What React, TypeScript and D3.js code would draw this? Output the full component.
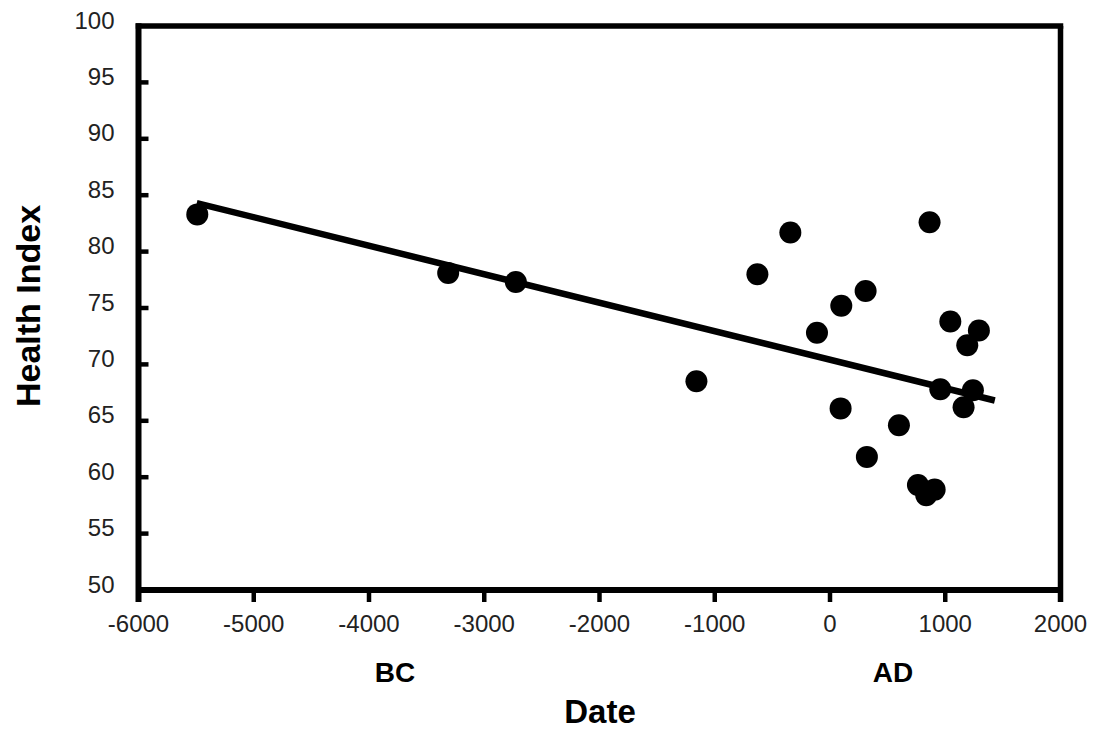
import React from "react";
import * as d3 from "d3";

const dates: number[] = [
  -5490, -3313, -2726, -1159, -630, -344, -113, 98, 309, 92, 320, 598, 864,
  1044, 957, 1292, 1191, 1240, 1159, 763, 908, 835,
];
const healthIndex: number[] = [
  83.3, 78.1, 77.3, 68.5, 78.0, 81.7, 72.8, 75.2, 76.5, 66.1, 61.8, 64.6, 82.6,
  73.8, 67.8, 73.0, 71.7, 67.7, 66.2, 59.3, 58.9, 58.4,
];
const trendDates: number[] = [-5495, 1430];
const trendValues: number[] = [84.3, 66.8];
const xTicks: number[] = [-6000, -5000, -4000, -3000, -2000, -1000, 0, 1000, 2000];
const yTicks: number[] = [50, 55, 60, 65, 70, 75, 80, 85, 90, 95, 100];

const W = 1101;
const H = 731;
const left = 138.5;
const right = 1060.5;
const top = 26;
const bottom = 590;
const FONT = "'Liberation Sans', Arial, Helvetica, sans-serif";

export default function App() {
  const x = d3.scaleLinear().domain([-6000, 2000]).range([left, right]);
  const y = d3.scaleLinear().domain([50, 100]).range([bottom, top]);
  const line = d3
    .line<number>()
    .x((d, i) => x(trendDates[i]))
    .y((d) => y(d));

  return (
    <div style={{ position: "absolute", left: 0, top: 0 }}>
      <svg width={W} height={H} style={{ display: "block", background: "#fff" }}>
        <rect x={0} y={0} width={W} height={H} fill="#fff" />
        {/* frame */}
        <line x1={left} y1={top} x2={right} y2={top} stroke="#000" strokeWidth={5.5} strokeLinecap="square" />
        <line x1={right} y1={top} x2={right} y2={bottom + 12} stroke="#000" strokeWidth={5.5} strokeLinecap="butt" />
        <line x1={left} y1={top - 2.75} x2={left} y2={bottom + 12} stroke="#000" strokeWidth={6} />
        <line x1={left} y1={bottom} x2={right} y2={bottom} stroke="#000" strokeWidth={6} />
        {/* y ticks (inward) */}
        {yTicks.map((t) => (
          <g key={"y" + t}>
            {t !== 100 && t !== 50 && (
              <line x1={left} x2={left + 10} y1={y(t)} y2={y(t)} stroke="#000" strokeWidth={4.5} />
            )}
            <text
              x={left - 24}
              y={y(t) + 2.5}
              textAnchor="end"
              fontFamily={FONT}
              fontSize={24}
              fill="#222"
            >
              {t}
            </text>
          </g>
        ))}
        {/* x ticks (outward) */}
        {xTicks.map((t) => (
          <g key={"x" + t}>
            <line x1={x(t)} x2={x(t)} y1={bottom} y2={bottom + 12} stroke="#000" strokeWidth={4.5} />
            <text
              x={x(t)}
              y={632}
              textAnchor="middle"
              fontFamily={FONT}
              fontSize={24}
              fill="#222"
            >
              {t}
            </text>
          </g>
        ))}
        {/* trend line */}
        <path d={line(trendValues) || ""} fill="none" stroke="#000" strokeWidth={6.5} />
        {/* points */}
        {dates.map((d, i) => (
          <circle key={"p" + i} cx={x(d)} cy={y(healthIndex[i])} r={11} fill="#000" />
        ))}
        {/* labels */}
        <text x={395} y={682} textAnchor="middle" fontFamily={FONT} fontWeight="bold" fontSize={28} fill="#000">
          BC
        </text>
        <text x={893} y={682} textAnchor="middle" fontFamily={FONT} fontWeight="bold" fontSize={28} fill="#000">
          AD
        </text>
        <text x={600} y={723} textAnchor="middle" fontFamily={FONT} fontWeight="bold" fontSize={33} fill="#000">
          Date
        </text>
        <text
          transform={`translate(40,306) rotate(-90)`}
          textAnchor="middle"
          fontFamily={FONT}
          fontWeight="bold"
          fontSize={34}
          fill="#000"
        >
          Health Index
        </text>
      </svg>
    </div>
  );
}
